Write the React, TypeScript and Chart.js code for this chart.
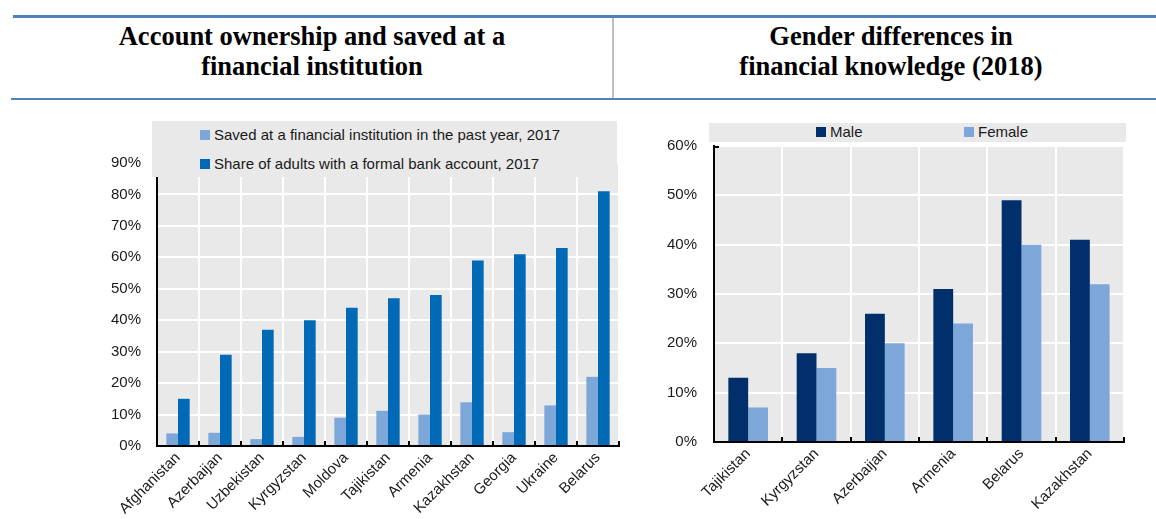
import React, { useEffect, useRef } from 'react';
import { Chart, registerables } from 'chart.js';

Chart.register(...registerables);

// ---------- Data ----------
const accountCategories = [
  'Afghanistan', 'Azerbaijan', 'Uzbekistan', 'Kyrgyzstan', 'Moldova', 'Tajikistan',
  'Armenia', 'Kazakhstan', 'Georgia', 'Ukraine', 'Belarus',
];
const savedAtInstitution = [4, 4.2, 2.2, 2.9, 9, 11.2, 10, 13.9, 4.4, 12.9, 22];
const formalAccount = [15, 29, 37, 40, 44, 47, 48, 59, 61, 63, 81];
const accountLegend = [
  'Saved at a financial institution in the past year, 2017',
  'Share of adults with a formal bank account, 2017',
];

const genderCategories = ['Tajikistan', 'Kyrgyzstan', 'Azerbaijan', 'Armenia', 'Belarus', 'Kazakhstan'];
const maleValues = [13, 18, 26, 31, 49, 41];
const femaleValues = [7, 15, 20, 24, 40, 32];
const genderLegend = ['Male', 'Female'];

const leftTitle = ['Account ownership and saved at a', 'financial institution'];
const rightTitle = ['Gender differences in', 'financial knowledge (2018)'];

// ---------- Styles ----------
const LIGHT = '#7ea7d9';
const DARK = '#006ab6';
const NAVY = '#002f6c';
const PLOT_BG = '#e9e9e9';
const HEADER_BLUE = '#4f81bd';
const SANS = '"Liberation Sans", Arial, sans-serif';
const SERIF = '"Liberation Serif", "Times New Roman", serif';

const plotPlugin = {
  id: 'plotDecor',
  beforeDraw(chart: any, _args: any, opts: any) {
    const { ctx, chartArea: a } = chart;
    ctx.save();
    ctx.fillStyle = opts.color || PLOT_BG;
    ctx.fillRect(a.left, a.top, a.right - a.left, a.bottom - a.top);
    ctx.restore();
  },
  afterDraw(chart: any, _args: any, opts: any) {
    const { ctx, chartArea: a } = chart;
    const xs = chart.scales.x;
    const n = chart.data.labels.length;
    ctx.save();
    ctx.strokeStyle = '#000';
    ctx.lineWidth = 2;
    ctx.beginPath();
    for (let i = 1; i <= n; i++) {
      const px = Math.round(xs.getPixelForValue(i - 0.5));
      ctx.moveTo(px, a.bottom);
      ctx.lineTo(px, a.bottom - 5);
    }
    if (opts.topTick) {
      ctx.moveTo(a.left, a.top + 1);
      ctx.lineTo(a.left + 5, a.top + 1);
    }
    ctx.stroke();
    ctx.restore();
  },
};

function makeOptions(cfg: {
  max: number; yWidth: number; xHeight: number; top: number; right: number; topTick: boolean; yPad: number;
}): any {
  const font = { family: SANS, size: 15 };
  return {
    responsive: false,
    animation: false,
    layout: { padding: { top: cfg.top, right: cfg.right, left: 0, bottom: 0 } },
    plugins: {
      legend: { display: false },
      tooltip: { enabled: false },
      plotDecor: { color: PLOT_BG, topTick: cfg.topTick },
    },
    scales: {
      x: {
        offset: true,
        grid: { color: '#ffffff', lineWidth: 2, drawTicks: false, offset: true },
        border: { display: true, color: '#000', width: 2, z: 1 },
        ticks: { font, color: '#1a1a1a', minRotation: 45, maxRotation: 45, autoSkip: false, padding: 3 },
        afterFit: (s: any) => { s.height = cfg.xHeight; },
      },
      y: {
        min: 0,
        max: cfg.max,
        grid: { color: '#ffffff', lineWidth: 2, drawTicks: false },
        border: { display: true, color: '#000', width: 2, z: 1 },
        ticks: {
          stepSize: 10,
          font,
          color: '#1a1a1a',
          padding: cfg.yPad,
          callback: (v: any) => v + '%',
        },
        afterFit: (s: any) => { s.width = cfg.yWidth; },
      },
    },
  };
}

function LegendSquare({ x, y, color }: { x: number; y: number; color: string }) {
  return <div style={{ position: 'absolute', left: x, top: y - 5, width: 10, height: 10, background: color }} />;
}
function LegendText({ x, y, text }: { x: number; y: number; text: string }) {
  return (
    <div style={{ position: 'absolute', left: x, top: y - 9, height: 18, lineHeight: '18px', fontFamily: SANS, fontSize: 15, color: '#1a1a1a', whiteSpace: 'nowrap' }}>
      {text}
    </div>
  );
}

export default function App() {
  const leftRef = useRef<HTMLCanvasElement>(null);
  const rightRef = useRef<HTMLCanvasElement>(null);

  useEffect(() => {
    const left = new Chart(leftRef.current as HTMLCanvasElement, {
      type: 'bar',
      data: {
        labels: accountCategories,
        datasets: [
          { label: accountLegend[0], data: savedAtInstitution, backgroundColor: LIGHT, borderWidth: 0, categoryPercentage: 0.556, barPercentage: 1 },
          { label: accountLegend[1], data: formalAccount, backgroundColor: DARK, borderWidth: 0, categoryPercentage: 0.556, barPercentage: 1 },
        ],
      },
      options: makeOptions({ max: 90, yWidth: 157, xHeight: 73, top: 63, right: 6, topTick: false, yPad: 16 }),
      plugins: [plotPlugin],
    });
    const right = new Chart(rightRef.current as HTMLCanvasElement, {
      type: 'bar',
      data: {
        labels: genderCategories,
        datasets: [
          { label: genderLegend[0], data: maleValues, backgroundColor: NAVY, borderWidth: 0, categoryPercentage: 0.58, barPercentage: 1 },
          { label: genderLegend[1], data: femaleValues, backgroundColor: LIGHT, borderWidth: 0, categoryPercentage: 0.58, barPercentage: 1 },
        ],
      },
      options: makeOptions({ max: 60, yWidth: 89, xHeight: 77, top: 46, right: 32, topTick: true, yPad: 17 }),
      plugins: [plotPlugin],
    });
    return () => { left.destroy(); right.destroy(); };
  }, []);

  const titleStyle: React.CSSProperties = {
    position: 'absolute', top: 21, fontFamily: SERIF, fontWeight: 'bold', fontSize: 26.5,
    lineHeight: '30px', textAlign: 'center', color: '#000', whiteSpace: 'nowrap',
  };

  return (
    <div style={{ position: 'absolute', left: 0, top: 0, width: 1156, height: 519, background: '#fff', overflow: 'hidden' }}>
      <div style={{ position: 'absolute', left: 13, top: 15, width: 1143, height: 3, background: HEADER_BLUE }} />
      <div style={{ position: 'absolute', left: 11, top: 98, width: 1145, height: 2, background: HEADER_BLUE }} />
      <div style={{ position: 'absolute', left: 612, top: 18, width: 2, height: 80, background: '#c0c0c0' }} />
      <div style={{ ...titleStyle, left: 13, width: 598 }}>
        {leftTitle[0]}<br />{leftTitle[1]}
      </div>
      <div style={{ ...titleStyle, left: 614, width: 554 }}>
        {rightTitle[0]}<br />{rightTitle[1]}
      </div>

      <canvas ref={leftRef} width={625} height={419} style={{ position: 'absolute', left: 0, top: 100, width: 625, height: 419 }} />
      <canvas ref={rightRef} width={531} height={419} style={{ position: 'absolute', left: 625, top: 100, width: 531, height: 419 }} />

      {/* Left legend */}
      <div style={{ position: 'absolute', left: 152, top: 121, width: 465, height: 56, background: PLOT_BG }} />
      <LegendSquare x={200} y={135} color={LIGHT} />
      <LegendText x={214} y={135} text={accountLegend[0]} />
      <LegendSquare x={200} y={164} color={DARK} />
      <LegendText x={214} y={164} text={accountLegend[1]} />

      {/* Right legend */}
      <div style={{ position: 'absolute', left: 709, top: 123, width: 417, height: 19, background: PLOT_BG }} />
      <LegendSquare x={816} y={132} color={NAVY} />
      <LegendText x={830} y={132} text={genderLegend[0]} />
      <LegendSquare x={964} y={132} color={LIGHT} />
      <LegendText x={978} y={132} text={genderLegend[1]} />
    </div>
  );
}
